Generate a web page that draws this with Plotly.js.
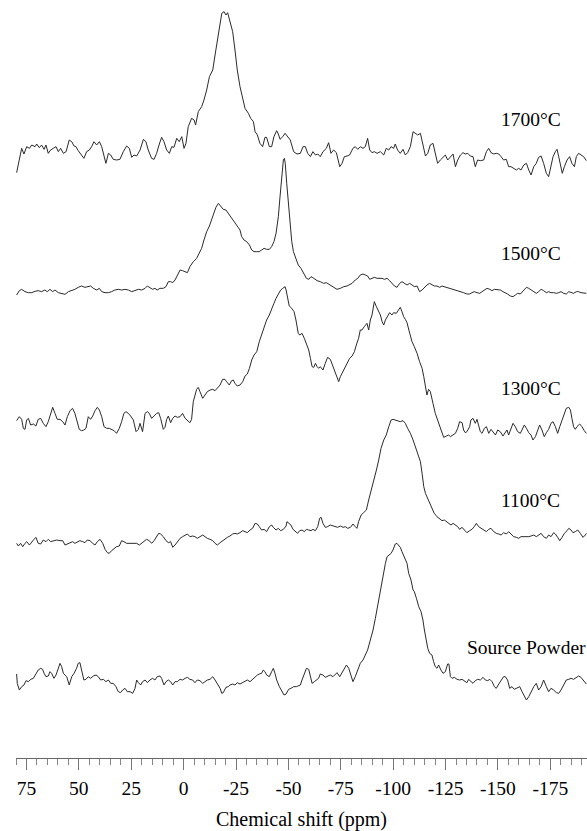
<!DOCTYPE html>
<html>
<head>
<meta charset="utf-8">
<script src="https://cdn.plot.ly/plotly-3.0.1.min.js"></script>
<style>html,body{margin:0;padding:0;background:#fff;}#chart{width:587px;height:831px;}</style>
</head>
<body>
<div id="chart"></div>
<script>
// ---- Data (chemical shift in ppm, intensity in arbitrary units above each trace's baseline) ----
const labels = ["1700°C", "1500°C", "1300°C", "1100°C", "Source Powder"];

const ppm1700 = [79.7,78.4,77.3,76.2,74.9,73.6,72.5,70.9,70.1,68.9,
67.8,66.6,65.7,64.6,63.5,62.2,60.9,59.8,58.7,57.4,
56.1,54.6,53.4,52.3,51.4,50.3,48.7,47.6,46.3,45.0,
43.9,42.8,41.5,40.2,39.1,38.0,37.1,35.9,34.8,33.6,
32.0,30.4,28.8,27.2,25.9,24.8,23.7,22.4,20.8,19.2,
18.0,16.9,15.3,14.1,12.9,11.6,10.5,9.4,8.1,6.8,
5.7,4.6,3.3,2.1,0.9,-0.2,-1.1,-2.2,-3.8,-5.0,
-5.7,-7.0,-8.6,-9.7,-11.0,-12.3,-13.9,-15.0,-16.1,-17.0,
-18.2,-19.3,-20.2,-21.0,-22.1,-23.4,-24.5,-25.6,-26.9,-28.2,
-29.3,-30.9,-32.0,-33.3,-34.1,-35.2,-36.4,-37.7,-38.8,-39.6,
-40.9,-42.0,-43.1,-44.4,-45.2,-46.0,-47.3,-48.4,-49.5,
-50.9,-52.5,-54.1,-55.7,-57.0,-58.1,-59.2,-60.5,-61.7,-62.9,
-64.0,-65.2,-66.5,-68.1,-69.2,-70.3,-71.6,-72.9,-74.5,-75.6,
-76.7,-78.0,-79.2,-80.8,-81.9,-83.1,-84.3,-85.6,-86.7,-87.8,
-88.8,-89.9,-91.0,-92.3,-93.9,-95.5,-96.7,-97.9,-99.0,-100.2,
-101.0,-102.1,-103.4,-104.7,-105.8,-106.9,-108.2,-109.5,-110.6,-111.7,
-113.0,-114.2,-115.4,-116.5,-117.7,-119.0,-120.1,-121.2,-122.5,-123.8,
-124.9,-126.0,-127.3,-128.6,-129.7,-130.8,-132.1,-133.3,-134.4,-135.6,
-136.8,-138.1,-139.2,-140.3,-141.6,-143.2,-144.5,-145.6,-146.7,-148.0,
-149.2,-150.4,-151.5,-152.7,-154.0,-155.1,-156.2,-157.5,-158.8,-159.9,
-161.0,-162.3,-163.6,-164.7,-165.8,-167.1,-168.3,-169.4,-170.6,-171.8,
-173.1,-174.2,-175.3,-176.3,-177.4,-178.2,-179.0,-179.8,-180.7,-181.7,
-183.0,-184.2,-185.3,-186.5,-187.4,-188.5,-189.6,-190.9,-192.2];
const int1700 = [-68,-30,5,-12,10,5,15,10,18,7,
15,2,15,-10,0,5,10,-5,5,-10,
-5,30,25,12,10,-2,-15,-25,-5,0,
10,25,15,25,10,-20,-40,-10,-15,-28,
-30,-28,-5,12,5,-22,-15,-18,0,32,
25,0,-25,-28,-10,18,38,25,0,-10,
10,8,35,25,40,5,20,70,95,90,
75,115,130,150,180,220,240,285,330,375,
410,415,405,412,385,355,300,240,190,150,
125,110,95,85,55,45,20,10,38,38,
10,10,40,58,48,32,40,50,40,
30,-5,-12,-10,10,10,-10,-20,-5,-15,
-12,-20,-5,5,22,-10,0,-8,-50,-40,
-20,-18,-15,5,10,2,10,5,10,35,
0,-8,-5,-10,-5,-15,5,0,10,5,
18,0,-10,2,-15,-8,10,55,50,45,
50,20,-18,-10,15,20,-10,-40,-30,-20,
-15,-30,-20,-12,-50,-30,-15,-8,-12,-10,
-18,-20,-50,-30,-32,-30,-5,5,-8,-12,
-10,-12,-20,-30,-28,-50,-50,-55,-60,-55,
-60,-45,-40,-60,-75,-50,-40,-22,-18,-40,
-70,-80,-50,-20,-5,2,-20,-45,-70,-50,
-30,-20,-40,-50,-20,-10,-15,-20,-32];

const ppm1500 = [79.7,78.4,77.3,75.7,74.1,72.5,70.9,69.4,67.8,66.2,
65.1,63.8,62.5,61.4,59.8,58.2,56.6,55.0,53.4,51.9,
50.3,48.7,47.1,45.5,44.4,43.1,41.5,40.2,39.1,37.5,
35.9,34.4,32.8,31.2,29.6,28.0,26.4,24.8,23.2,21.6,
20.0,18.4,17.3,16.1,14.8,13.7,12.6,11.3,9.7,8.4,
7.3,6.2,5.2,4.1,3.0,1.7,0.5,-0.7,-1.8,-3.0,
-4.6,-6.2,-7.5,-8.6,-9.7,-11.0,-12.3,-13.4,-14.5,-15.4,
-16.6,-17.7,-18.9,-20.2,-21.3,-22.4,-23.7,-25.0,-26.1,-26.9,
-27.7,-28.8,-30.1,-31.4,-32.5,-33.6,-34.9,-36.1,-37.2,-38.4,
-39.6,-40.9,-42.0,-43.1,-44.1,-45.2,-46.0,-46.8,-47.6,-48.1,-48.5,-49.2,
-50.0,-50.8,-51.6,-52.4,-53.6,-54.7,
-56.0,-57.3,-58.6,-59.7,-60.8,-62.1,-63.7,-65.2,-66.8,-68.1,
-69.2,-70.3,-71.6,-73.2,-74.8,-76.4,-78.0,-79.2,-80.4,-81.9,
-83.1,-84.3,-85.6,-86.7,-87.8,-88.8,-89.9,-91.0,-92.3,-93.6,
-94.7,-95.8,-97.1,-98.3,-99.4,-100.6,-101.8,-103.1,-104.2,-105.3,
-106.6,-107.9,-109.0,-110.1,-111.4,-112.6,-113.8,-114.9,-116.1,-117.4,
-118.5,-119.6,-120.9,-122.2,-123.3,-124.4,-125.7,-127.3,-128.9,-130.5,
-132.1,-133.6,-135.2,-136.5,-137.6,-138.7,-140.0,-141.3,-142.4,-143.5,
-144.8,-146.1,-147.2,-148.3,-149.6,-151.1,-152.4,-153.5,-154.6,-155.9,
-157.2,-158.3,-159.4,-160.7,-162.3,-163.6,-164.7,-165.8,-167.1,-168.3,
-169.4,-170.6,-171.8,-173.1,-174.2,-175.3,-176.6,-177.9,-179.0,-180.1,
-181.4,-182.6,-183.8,-184.9,-186.1,-187.4,-188.5,-189.6,-190.9,-192.2];
const int1500 = [-10,3,7,0,-3,-3,1,3,0,5,
0,7,0,5,-3,-5,-8,0,3,7,
13,17,13,15,17,10,5,10,0,-3,
-3,0,5,7,5,7,5,0,3,7,
5,10,17,13,7,10,5,10,10,15,
30,30,27,35,47,65,63,60,57,75,
90,100,115,130,155,180,197,215,235,253,
265,257,247,245,235,225,215,203,195,185,
165,155,150,140,125,120,120,120,125,130,
127,127,135,150,175,225,285,345,395,400,385,325,
270,200,150,120,100,80,
70,55,40,37,45,40,33,30,25,27,
23,20,15,7,10,15,17,20,25,35,
40,50,53,50,47,37,40,43,40,40,
40,37,40,33,25,17,13,25,30,25,
20,25,20,15,17,0,5,13,20,25,
20,17,17,13,17,15,13,10,7,3,
0,-3,-7,-7,-3,0,-3,-5,0,5,
10,7,3,7,5,5,0,-3,-7,-13,
-15,-10,-5,-7,5,13,10,5,0,-5,
0,7,3,-3,0,-3,-3,-5,-3,0,
-5,-7,0,-3,-5,0,0,-3,-3,-5];

const ppm1300 = [79.7,78.4,77.3,76.5,75.7,74.9,74.1,73.0,71.7,70.5,
69.4,68.2,67.0,65.7,64.6,63.5,62.5,61.4,60.3,59.0,
57.7,56.6,55.5,54.2,53.0,51.9,50.7,49.8,48.7,47.6,
46.6,45.5,44.4,43.4,42.3,41.2,40.2,39.1,38.0,36.7,
35.5,34.4,33.2,32.0,30.7,29.6,28.5,27.5,26.4,25.3,
24.0,22.7,21.6,20.8,19.6,18.4,17.3,16.4,15.3,14.1,
12.9,11.9,11.0,9.7,8.9,8.1,7.3,6.2,5.2,4.1,
3.0,1.7,0.5,-0.7,-1.8,-3.0,-3.8,
-4.6,-6.2,-7.0,-7.8,-9.1,-10.2,-11.3,-12.6,-13.9,-15.0,
-16.1,-17.4,-18.6,-19.7,-20.5,-21.8,-22.9,-23.7,-24.5,-25.6,
-26.9,-28.2,-29.3,-30.4,-31.4,-32.5,-33.6,-34.9,-36.1,-37.2,
-38.0,-38.8,-39.6,-40.9,-42.0,-43.1,-44.1,-45.2,-46.3,-47.3,
-48.4,-48.9,-49.5,-50.4,-51.6,-52.7,-53.6,-54.7,
-55.4,-56.5,-57.6,-58.6,-59.7,-60.5,-61.3,-62.1,-62.9,-63.7,
-64.4,-65.2,-66.5,-67.6,-68.7,-70.0,-71.3,-72.4,-73.2,-74.0,
-74.8,-76.1,-77.2,-78.3,-79.2,-80.4,-81.5,-82.4,-83.5,-84.3,
-85.1,-86.2,-87.5,-88.3,-89.1,-89.9,-91.0,-92.0,-93.1,-93.9,
-94.7,-95.5,-96.3,-97.4,-98.3,-99.4,-100.2,-101.5,-102.6,-103.4,
-104.2,-105.0,-105.8,-106.6,-107.9,-109.0,-110.1,-111.4,-112.6,-113.8,
-114.6,-115.4,-116.1,-116.9,-117.7,
-119.0,-120.1,-121.2,-122.5,-123.3,-124.1,-125.4,-126.5,-127.3,-128.6,
-129.7,-130.8,-131.7,-132.9,-133.6,-134.4,-135.2,-136.5,-137.1,-138.1,
-139.2,-140.0,-140.8,-141.6,-142.4,-143.5,-144.5,-145.6,-146.7,-147.6,
-148.8,-149.9,-151.1,-152.4,-153.5,-154.3,-155.1,-155.9,-157.2,-158.3,
-159.4,-160.7,-161.5,-162.6,-163.6,-164.7,-165.8,-166.7,-167.9,-169.0,
-169.9,-171.0,-172.1,-173.1,-174.2,-175.3,-176.3,-177.4,-178.5,-179.5,
-180.6,-181.7,-182.6,-183.8,-184.6,-185.3,-186.1,-186.9,-187.7,-189.0,-190.1,-191.2,-192.2];
const int1300 = [-2,10,2,-25,-28,0,5,-15,-12,-18,
2,5,-10,-20,-5,20,38,20,2,2,
-5,-15,10,28,35,20,-10,-28,-32,-30,
-25,10,2,12,28,38,30,10,-20,-25,
-25,-28,-32,-40,-25,-5,20,25,20,12,
0,-35,-28,-10,-35,20,25,20,5,12,
20,22,5,-28,-22,2,12,-8,5,12,
8,10,20,5,0,-8,2,
55,92,98,85,65,75,85,90,92,88,
95,105,122,122,115,105,118,120,110,102,
105,115,132,138,155,180,195,205,235,255,
270,285,300,315,335,350,365,380,390,395,
400,390,370,342,335,325,300,260,
255,260,245,230,210,185,160,158,170,160,
155,160,150,170,188,182,160,145,130,115,
130,145,160,175,185,192,205,225,245,270,
270,280,290,270,300,315,355,340,325,315,
295,285,300,310,322,315,322,320,332,338,
325,310,302,292,260,235,220,200,175,155,
130,105,75,92,86,
50,20,0,-25,-42,-52,-48,-45,-50,-45,
-40,-25,-5,-8,-30,-38,-35,-20,0,5,
-10,2,-20,-35,-40,-25,-20,-40,-28,-35,
-45,-30,-35,-48,-35,-30,-45,-30,-10,-20,
-35,-40,-28,-15,-25,-38,-45,-60,-50,-30,
-15,-30,-50,-38,-28,-10,-5,-20,-40,-20,
0,20,35,38,30,5,-20,-28,-20,-12,-20,-32,-40];

const ppm1100 = [79.7,78.9,77.8,76.8,75.7,74.9,73.6,72.5,71.4,70.5,
69.4,68.2,67.0,65.7,64.6,63.5,62.2,60.6,59.0,57.7,
56.6,55.5,54.2,53.0,51.9,50.7,49.5,48.2,47.1,46.0,
44.7,43.4,42.3,41.2,39.9,38.6,37.5,36.4,35.5,34.4,
33.2,32.0,30.7,29.6,28.5,27.2,25.6,24.0,22.4,21.1,
20.0,18.9,17.7,16.4,15.3,14.1,12.9,11.9,11.0,9.7,
8.4,7.3,6.2,5.2,4.1,3.0,1.7,0.5,-0.7,-1.8,
-3.0,-4.3,-5.4,-6.5,-7.8,-9.1,-10.2,-11.3,-12.6,-13.9,
-15.0,-16.1,-17.4,-18.6,-19.7,-20.9,-22.1,-23.4,-24.5,-25.6,
-26.9,-28.2,-29.3,-30.4,-31.7,-32.9,-34.1,-35.2,-36.1,-37.2,
-38.4,-39.6,-40.9,-42.0,-42.8,-44.1,-45.2,-46.3,-47.6,-48.9,
-49.3,-50.1,-51.2,-52.2,-53.3,-54.4,-55.4,-56.5,-57.6,-58.6,
-59.7,-60.8,-61.7,-62.9,-64.0,-64.9,-65.6,-66.5,-67.6,-68.7,
-70.0,-71.3,-72.4,-73.5,-74.8,-76.1,-77.2,-78.3,-79.6,-80.8,
-81.9,-82.7,-83.5,-84.7,-85.9,-87.2,-88.3,-89.4,-90.7,-92.0,
-93.1,-94.2,-95.5,-96.7,-97.9,-99.0,-99.9,-101.0,-102.1,-103.4,
-104.7,-105.8,-106.9,-108.2,-109.5,-110.6,-111.7,-113.0,-113.8,-114.6,
-115.4,-116.5,-117.4,-118.5,-119.6,-120.9,-122.2,-123.3,-124.4,-125.4,
-126.5,-127.6,-128.6,-129.7,-130.8,-131.7,-132.9,-134.0,-135.2,-136.5,
-137.6,-138.7,-139.7,-140.8,-141.9,-143.2,-144.5,-145.6,-146.7,-148.0,
-149.2,-150.4,-151.5,-152.7,-154.0,-155.1,-156.2,-157.5,-158.8,-159.9,
-161.0,-162.3,-163.6,-164.7,-165.8,-167.1,-168.3,-169.4,-170.6,-171.8,
-173.1,-174.2,-175.3,-176.6,-177.4,-178.5,-179.5,-180.6,-181.7,-183.0,
-183.8,-184.9,-185.8,-186.9,-188.1,-189.3,-190.6,-191.7,-192.2];
const int1100 = [-2,-10,-2,-12,-2,3,-7,3,10,16,
-2,-4,8,3,10,3,6,8,6,6,
-7,-4,0,3,-2,3,6,3,0,8,
6,-2,-7,3,10,-2,-20,-30,-32,-24,
-17,-12,-10,6,3,-2,-2,-2,-2,-7,
-2,3,10,6,-2,6,20,28,26,18,
6,0,3,-14,-7,3,13,18,23,26,
18,20,18,13,18,23,18,13,10,6,
-2,-7,0,6,10,16,20,26,28,26,
30,36,33,30,38,43,58,56,48,38,
40,33,48,53,46,38,43,36,40,50,
63,58,53,40,33,28,36,38,33,40,
38,36,40,36,48,73,76,58,46,48,
53,50,48,46,50,46,48,43,46,56,
48,43,63,83,90,98,128,153,188,218,
248,283,308,323,348,368,370,368,366,363,
366,358,343,328,308,288,263,243,208,168,
148,133,118,103,88,78,70,66,68,63,
58,53,58,53,48,40,46,38,30,36,
40,48,58,48,43,38,33,40,43,33,
28,26,23,30,26,33,26,18,16,13,
18,18,16,18,20,23,18,23,28,18,
13,23,18,30,26,16,6,16,28,36,
43,38,30,33,38,28,16,23,28];

const ppmSource = [79.7,79.4,78.4,77.3,76.2,75.2,74.1,73.0,71.7,70.5,
69.4,68.2,67.3,66.6,65.7,64.6,63.8,63.0,61.9,60.9,
59.8,59.0,58.2,57.4,56.6,55.8,54.6,53.4,52.3,51.1,
50.3,49.5,48.7,47.6,46.6,45.5,44.4,43.1,41.8,40.7,
39.6,38.3,37.1,35.9,34.8,33.6,32.3,31.2,30.1,29.1,
28.0,26.9,25.6,24.3,23.2,22.4,21.6,20.5,19.6,18.4,
17.3,16.1,14.8,13.7,12.6,11.3,10.5,9.4,8.4,7.3,
6.2,5.2,4.1,3.0,1.7,0.5,-0.7,-1.8,-3.0,-4.3,
-5.4,-6.5,-7.8,-9.1,-10.2,-11.3,-12.6,-13.9,-15.0,-15.8,
-16.6,-17.4,-18.2,-18.9,-20.2,-21.3,-22.1,-23.4,-24.5,-25.6,
-26.9,-28.2,-29.3,-30.4,-31.7,-32.9,-34.1,-35.2,-36.1,-37.2,
-38.0,-38.8,-39.6,-40.9,-42.0,-42.8,-43.6,-44.4,-45.7,-46.8,
-47.9,-48.9,
-50.1,-51.2,-52.5,-53.8,-54.9,-55.7,-56.5,-57.6,-58.6,-59.7,
-60.5,-61.3,-62.4,-63.7,-64.4,-65.2,-66.5,-67.6,-68.7,-70.0,
-71.3,-72.4,-73.2,-74.5,-75.6,-76.7,-77.7,-78.8,-79.9,-80.8,
-81.9,-83.1,-84.3,-85.6,-86.7,-87.8,-89.1,-90.4,-91.5,-92.6,
-93.9,-95.1,-96.3,-97.1,-97.9,-99.0,-99.9,-101.0,-101.8,-102.6,
-103.4,-104.2,-105.0,-105.8,-106.6,-107.4,-108.5,-109.5,-110.1,-111.1,
-112.2,-113.3,-114.2,-114.9,-115.8,-116.5,-117.4,-118.5,-119.3,-120.1,
-120.9,-121.7,-122.8,-123.8,-124.9,-126.0,-126.6,-127.3,-128.1,-129.2,
-130.5,-131.7,-132.9,-134.0,-135.2,-136.0,-137.1,-138.1,-139.2,-140.3,
-141.6,-142.9,-144.0,-145.1,-146.1,-147.2,-148.3,-149.2,-150.4,-151.5,
-152.7,-153.5,-154.6,-155.6,-156.7,-157.8,-159.1,-160.4,-161.5,-162.6,
-163.6,-164.7,-165.8,-167.1,-168.3,-169.4,-170.6,-171.8,-173.1,-174.2,
-175.3,-176.6,-177.9,-179.0,-180.1,-181.4,-182.6,-183.8,-184.9,-186.1,
-187.4,-188.5,-189.6,-190.9,-192.2];
const intSource = [18,-10,-30,-20,-15,-2,-5,2,5,20,
30,35,32,20,10,12,25,20,5,15,
35,50,40,20,15,10,-15,10,20,35,
50,52,30,0,2,10,5,12,15,10,
0,2,-5,0,-10,-10,-20,-35,-38,-30,
-25,-35,-35,-40,-25,0,-8,-15,-5,0,
-8,0,5,0,10,12,5,-15,-5,0,
-5,-15,-5,-5,2,0,5,8,2,0,
-8,0,-2,-10,-5,0,2,10,0,-10,
-20,-25,-40,-38,-22,-20,-15,-12,-15,-8,
-12,-8,-5,0,-5,2,10,15,18,20,
30,25,15,10,25,35,20,0,-20,-35,
-45,-42,
-28,-25,-20,-20,-18,-15,0,22,35,32,
10,-10,-5,0,5,18,15,8,12,15,
10,18,22,10,22,35,45,35,15,-5,
10,30,50,60,75,90,120,150,185,225,
270,310,350,370,375,380,390,408,410,405,
398,385,375,365,350,320,300,270,265,245,
220,205,180,150,120,95,80,75,55,40,
35,45,30,20,25,48,48,10,5,8,
2,0,2,-2,-8,2,-5,-10,-2,2,
0,8,0,-2,2,-5,-20,-25,-12,0,
10,10,0,-25,-20,-28,-25,-20,-35,-48,
-60,-50,-35,-20,-10,-30,-20,0,-20,-35,
-25,-30,-38,-40,-30,-15,0,2,5,2,
8,12,8,-2,-12];

const tickValues = [75, 50, 25, 0, -25, -50, -75, -100, -125, -150, -175];
const tickLabels = ["75", "50", "25", "0", "-25", "-50", "-75", "-100", "-125", "-150", "-175"];

// ---- Plot construction ----
const spectra = [
  {x: ppm1700, y: int1700},
  {x: ppm1500, y: int1500},
  {x: ppm1300, y: int1300},
  {x: ppm1100, y: int1100},
  {x: ppmSource, y: intSource}
];
const stackOffsets = [1824, 1399, 1014, 646, 234];

const traces = spectra.map((s, i) => ({
  type: 'scatter',
  mode: 'lines',
  x: s.x,
  y: s.y.map(v => v + stackOffsets[i]),
  line: {color: '#2a2a2a', width: 1},
  hoverinfo: 'skip',
  showlegend: false
}));

const FONT = '"Liberation Serif", "Times New Roman", Times, serif';
const labelPos = [
  {x: 0.8454, y: 0.8424},
  {x: 0.8454, y: 0.6653},
  {x: 0.8454, y: 0.4871},
  {x: 0.8454, y: 0.3397},
  {x: 0.7869, y: 0.1458}
];
const annotations = labels.map((t, i) => ({
  text: t,
  xref: 'paper', yref: 'paper',
  x: labelPos[i].x, y: labelPos[i].y,
  xanchor: 'left', yanchor: 'middle',
  showarrow: false,
  font: {family: FONT, size: 19.5, color: '#000'}
}));

const layout = {
  width: 587,
  height: 831,
  margin: {l: 16, r: 0, t: 0, b: 73, pad: 0},
  paper_bgcolor: '#fff',
  plot_bgcolor: '#fff',
  font: {family: FONT, color: '#000'},
  showlegend: false,
  xaxis: {
    range: [80, -192.5],
    tickmode: 'array',
    tickvals: tickValues,
    ticktext: tickLabels,
    ticks: 'outside',
    ticklen: 11,
    tickwidth: 1,
    tickcolor: '#777',
    ticklabelstandoff: 2,
    showline: true,
    linecolor: '#666',
    linewidth: 1,
    showgrid: false,
    zeroline: false,
    tickfont: {family: FONT, size: 19.5, color: '#000'},
    minor: {tickmode: 'linear', tick0: 0, dtick: 5, ticks: 'outside', ticklen: 6, tickwidth: 1, tickcolor: '#888', showgrid: false},
    title: {text: 'Chemical shift (ppm)', font: {family: FONT, size: 20, color: '#000'}, standoff: 13},
    automargin: false,
    fixedrange: true
  },
  yaxis: {
    range: [0, 2274],
    visible: false,
    showgrid: false,
    zeroline: false,
    fixedrange: true
  },
  annotations: annotations
};

Plotly.newPlot('chart', traces, layout, {displayModeBar: false, staticPlot: true});
</script>
</body>
</html>
